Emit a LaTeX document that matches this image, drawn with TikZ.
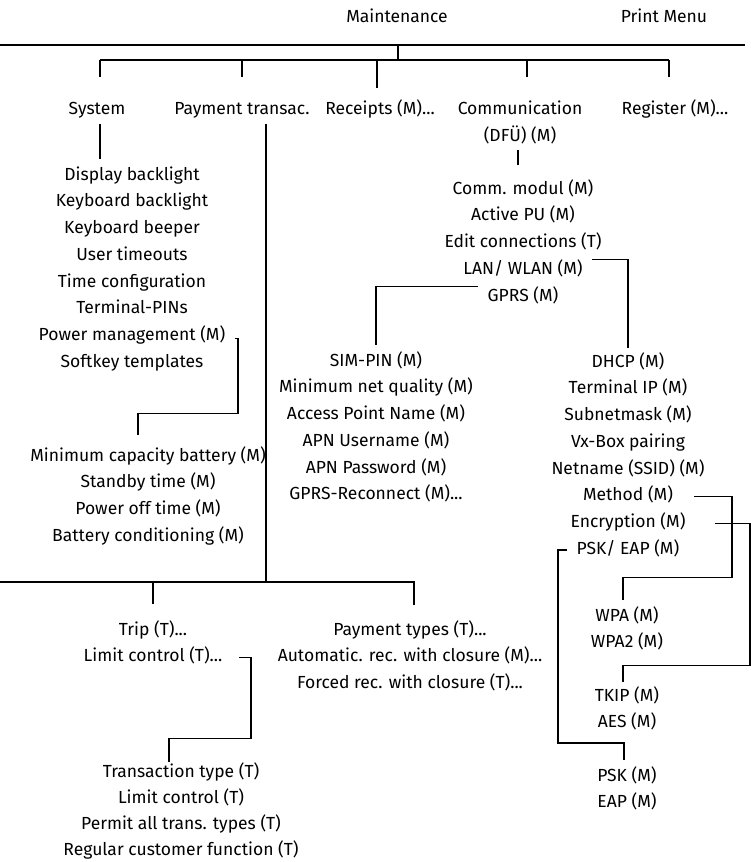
\documentclass[tikz,border=0pt]{standalone}
\usepackage{fontspec}
\setmainfont{Fira Sans}
\usetikzlibrary{calc}
\newcommand{\mdots}{...}

\begin{document}
\begin{tikzpicture}[x=1pt, y=-1pt,
      item/.style = {inner sep=0pt, anchor=center, text height=0.85em, text depth=0pt,
                     font=\fontsize{17.5}{21}\selectfont},
      link/.style = {draw, line width=1.2pt},
    ]
    \useasboundingbox (0,0) rectangle (751,862);

    % --- Top level ---
    \node[item] (mnt) at (397,18) {Maintenance};
    \node[item] (prt) at (664,18) {Print Menu};

    \node[item] (sys) at (97,110)  {System};
    \node[item] (pay) at (242,110) {Payment transac.};
    \node[item] (rec) at (380,110) {Receipts (M)\mdots};
    \node[item] (com) at (520,110) {Communication};
    \node[item] (dfu) at (520,137) {(DFÜ) (M)};
    \node[item] (reg) at (675,110) {Register (M)\mdots};

    \coordinate (rule-l) at (0,45);
    \coordinate (rule-r) at (745,45);
    \coordinate (bus)    at (398,60);
    \coordinate (bus-l)  at (100,60);
    \coordinate (bus-r)  at (669,60);

    \draw[link] (rule-l) -- (rule-r);
    \draw[link] (bus |- rule-l) -- (bus);
    \draw[link] (bus-l) -- (bus-r) (bus-l) -- ++(0,17) (bus-r) -- ++(0,17);
    \draw[link] (pay |- bus) -- ++(0,17);
    \draw[link] (rec |- bus) ++(-3,0) -- ++(0,28);
    \draw[link] (com |- bus) ++(7,0) -- ++(0,17);

    % --- System ---
    \foreach \lbl [count=\i] in {Display backlight, Keyboard backlight, Keyboard beeper,
        User timeouts, Time configuration, Terminal-PINs, Power management (M),
        Softkey templates}
      \node[item] (sys\i) at (132,{149.3+26.7*\i}) {\lbl};
    \draw[link] (sys.south) ++(3,9.8) -- ++(0,35);

    \foreach \lbl [count=\i] in {Minimum capacity battery (M), Standby time (M),
        Power off time (M), Battery conditioning (M)}
      \node[item] (pwr\i) at (148,{430.3+26.7*\i}) {\lbl};
    \draw[link] (sys7) ++(103,2) -- ++(3,0) |- ++(-100,75) -- ++(0,22);

    % --- Communication ---
    \foreach \lbl [count=\i] in {Comm. modul (M), Active PU (M), Edit connections (T),
        LAN/ WLAN (M), GPRS (M)}
      \node[item] (cm\i) at (523,{163.3+26.7*\i}) {\lbl};
    \draw[link] (dfu.south) ++(-2,8.8) -- ++(0,15);

    \foreach \lbl [count=\i] in {SIM-PIN (M), Minimum net quality (M), Access Point Name (M),
        APN Username (M), APN Password (M), GPRS-Reconnect (M)\mdots}
      \node[item] (gp\i) at (376,{335.3+26.7*\i}) {\lbl};
    \draw[link] (cm5) ++(-45,-10) -| ([yshift=12.7pt]gp1.north);

    \foreach \lbl [count=\i] in {DHCP (M), Terminal IP (M), Subnetmask (M), Vx-Box pairing,
        Netname (SSID) (M), Method (M), Encryption (M), PSK/ EAP (M)}
      \node[item] (ln\i) at (628,{336.3+26.7*\i}) {\lbl};
    \draw[link] (cm4) ++(69,-11) -| ([yshift=10.7pt]ln1.north);

    % WLAN sub menus
    \foreach \lbl [count=\i] in {WPA (M), WPA2 (M)}
      \node[item] (wpa\i) at (627,{590.3+26.7*\i}) {\lbl};
    \foreach \lbl [count=\i] in {TKIP (M), AES (M)}
      \node[item] (aes\i) at (627,{670.3+26.7*\i}) {\lbl};
    \foreach \lbl [count=\i] in {PSK (M), EAP (M)}
      \node[item] (psk\i) at (627,{750.3+26.7*\i}) {\lbl};

    \draw[link] (ln6) ++(66,0) -- ++(38,0) |- ++(-109,81) -- ++(0,22);
    \draw[link] (ln7) ++(87,0) -- ++(35,0) |- ++(-127,142) -- ++(0,17);
    \draw[link] (ln8) ++(-61,0) -- ++(-9,0) |- ++(66,193) -- ++(0,17);

    % --- Payment transactions ---
    \coordinate (pbus)   at (266,582);
    \coordinate (pbus-l) at (0,582);
    \coordinate (pbus-r) at (414,582);

    \foreach \lbl [count=\i] in {Trip (T)\mdots, Limit control (T)\mdots}
      \node[item] (trp\i) at (153,{604.3+26.7*\i}) {\lbl};
    \foreach \lbl [count=\i] in {Payment types (T)\mdots, Automatic. rec. with closure (M)\mdots,
        Forced rec. with closure (T)\mdots}
      \node[item] (ptp\i) at (410,{604.3+26.7*\i}) {\lbl};
    \foreach \lbl [count=\i] in {Transaction type (T), Limit control (T),
        Permit all trans. types (T), Regular customer function (T)}
      \node[item] (trn\i) at (181,{747+26*\i}) {\lbl};

    \draw[link] (pay.south -| pbus) ++(0,9.8) -- (pbus);
    \draw[link] (pbus-l) -- (pbus-r) -- ++(0,23);
    \draw[link] (trp1 |- pbus) -- ++(0,22);
    \draw[link] (trp2) ++(86,0) -- ++(12,0) |- ++(-82,81) -- ++(0,23);

  \end{tikzpicture}
\end{document}
